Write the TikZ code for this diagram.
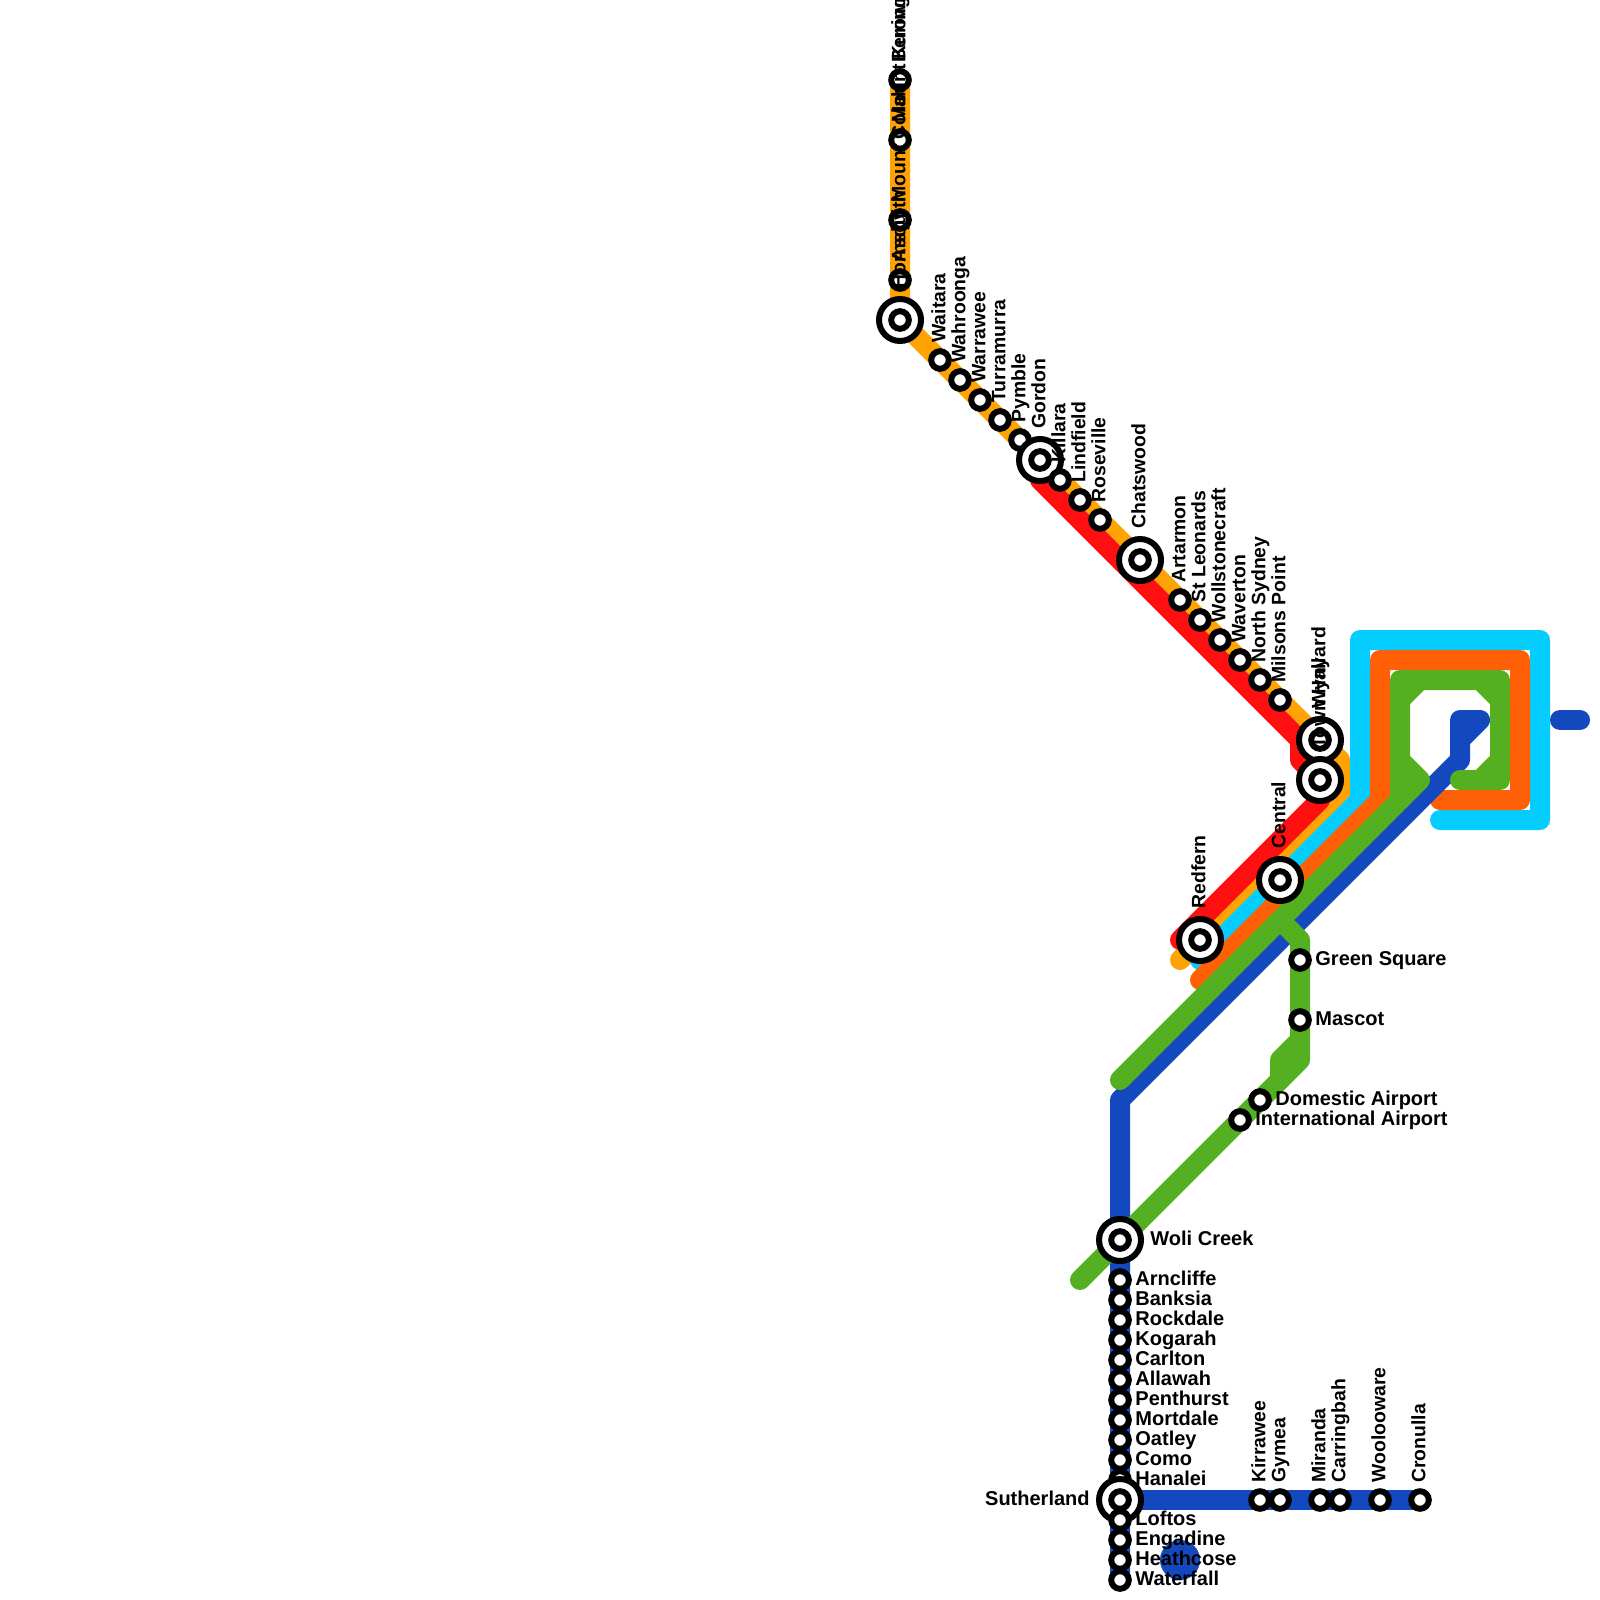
\documentclass[tikz,border=0pt]{standalone}
\usepackage{fontspec}
\setmainfont{Liberation Sans}[BoldFont={Liberation Sans Bold}]
\usepackage{xcolor}
\definecolor{lineblue}{RGB}{20, 72, 190}
\definecolor{linegreen}{RGB}{84, 176, 32}
\definecolor{linedorange}{RGB}{255, 96, 5}
\definecolor{linecyan}{RGB}{5, 205, 255}
\definecolor{lineorange}{RGB}{255, 163, 5}
\definecolor{linered}{RGB}{255, 15, 15}
\tikzset{
  metro/.style={line width=10pt, line cap=round, line join=round},
  stn/.style={circle, draw=black, fill=white, line width=3pt, inner sep=0pt, minimum size=8.8pt},
  hubring/.style={circle, draw=black, fill=white, line width=3pt, inner sep=0pt, minimum size=21pt},
  stnlabel/.style={font=\fontsize{10pt}{10pt}\selectfont\bfseries, inner sep=0pt, anchor=mid west, xshift=7.5pt},
  stnup/.style={font=\fontsize{9.7pt}{9.7pt}\selectfont\bfseries, inner sep=0pt, yshift=8.5pt, rotate=90, anchor=mid west},
  hubup/.style={font=\fontsize{9.7pt}{9.7pt}\selectfont\bfseries, inner sep=0pt, yshift=15.5pt, rotate=90, anchor=mid west}
}
\begin{document}
\begin{tikzpicture}[x=0.5pt, y=-0.5pt]
  \useasboundingbox (0, 0) rectangle (1600, 1600);
  % lines
  \draw[metro, lineorange] (900, 80) -- (900, 320) -- (1340, 760) -- (1340, 800) -- (1180, 960);
  \draw[metro, linered] (1040, 480) -- (1300, 740) -- (1300, 760) -- (1320, 780) -- (1320, 800) -- (1180, 940);
  \draw[metro, linecyan] (1200, 960) -- (1360, 800) -- (1360, 640) -- (1540, 640) -- (1540, 820) -- (1440, 820);
  \draw[metro, linedorange] (1200, 980) -- (1380, 800) -- (1380, 660) -- (1520, 660) -- (1520, 800) -- (1440, 800);
  \draw[metro, lineblue] (1120, 1580) -- (1120, 1100) -- (1460, 760) -- (1460, 720) -- (1480, 720) -- (1460, 740);
  \draw[metro, lineblue] (1120, 1500) -- (1420, 1500);
  \draw[metro, lineblue] (1560, 720) -- (1580, 720);
  \fill[lineblue] (1180, 1560) circle (10pt);
  \draw[metro, linegreen] (1120, 1080) -- (1400, 800) -- (1420, 780) -- (1400, 760) -- (1400, 700) -- (1420, 680) -- (1480, 680) -- (1500, 700) -- (1500, 760) -- (1480, 780);
  \draw[metro, linegreen] (1400, 800) -- (1400, 680) -- (1500, 680) -- (1500, 780) -- (1460, 780);
  \draw[metro, linegreen] (1080, 1280) -- (1300, 1060) -- (1300, 940) -- (1280, 920);
  \draw[metro, linegreen] (1300, 1040) -- (1280, 1060) -- (1280, 1080);
  % stations north to south
  \foreach \nm/\x/\y/\txt in {
    berowra/900/80/Berowra, kuringgai/900/140/Mount Kuring-gai, colah/900/220/Mount Colah,
    asquith/900/280/Asquith} {
    \node[stn] (\nm) at (\x, \y) {};
    \node[stnup] (\nm text) at (\nm.center) {\txt};
  }
  \node[hubring] (hornsby) at (900, 320) {};
  \node[stn] (hornsbyin) at (900, 320) {};
  \node[hubup] (hornsbytext) at (hornsby.center) {Hornsby};
  \foreach \nm/\x/\y/\txt in {
    waitara/940/360/Waitara, wahroonga/960/380/Wahroonga, warrawee/980/400/Warrawee,
    turramurra/1000/420/Turramurra, pymble/1020/440/Pymble} {
    \node[stn] (\nm) at (\x, \y) {};
    \node[stnup] (\nm text) at (\nm.center) {\txt};
  }
  \node[hubring] (gordon) at (1040, 460) {};
  \node[stn] (gordonin) at (1040, 460) {};
  \node[hubup] (gordontext) at (gordon.center) {Gordon};
  \foreach \nm/\x/\y/\txt in {
    killara/1060/480/Killara, lindfield/1080/500/Lindfield, roseville/1100/520/Roseville} {
    \node[stn] (\nm) at (\x, \y) {};
    \node[stnup] (\nm text) at (\nm.center) {\txt};
  }
  \node[hubring] (chatswood) at (1140, 560) {};
  \node[stn] (chatswoodin) at (1140, 560) {};
  \node[hubup] (chatswoodtext) at (chatswood.center) {Chatswood};
  \foreach \nm/\x/\y/\txt in {
    artarmon/1180/600/Artarmon, stleonards/1200/620/St Leonards, wollstonecraft/1220/640/Wollstonecraft,
    waverton/1240/660/Waverton, northsydney/1260/680/North Sydney, milsons/1280/700/Milsons Point} {
    \node[stn] (\nm) at (\x, \y) {};
    \node[stnup] (\nm text) at (\nm.center) {\txt};
  }
  \foreach \nm/\x/\y/\txt in {
    wynyard/1320/740/Wynyard, townhall/1320/780/Town Hall, central/1280/880/Central, redfern/1200/940/Redfern} {
    \node[hubring] (\nm) at (\x, \y) {};
    \node[stn] (\nm in) at (\x, \y) {};
    \node[hubup] (\nm text) at (\nm.center) {\txt};
  }
  \foreach \nm/\x/\y/\txt in {
    greensquare/1300/960/Green Square, mascot/1300/1020/Mascot,
    domestic/1260/1100/Domestic Airport, international/1240/1120/International Airport} {
    \node[stn] (\nm) at (\x, \y) {};
    \node[stnlabel] (\nm text) at (\nm.center) {\txt};
  }
  \node[hubring] (woli) at (1120, 1240) {};
  \node[stn] (woliin) at (1120, 1240) {};
  \node[stnlabel, xshift=7.5pt] (wolitext) at (woli.center) {Woli Creek};
  \foreach \nm/\y/\txt in {
    arncliffe/1280/Arncliffe, banksia/1300/Banksia, rockdale/1320/Rockdale, kogarah/1340/Kogarah,
    carlton/1360/Carlton, allawah/1380/Allawah, penthurst/1400/Penthurst, mortdale/1420/Mortdale,
    oatley/1440/Oatley, como/1460/Como, hanalei/1480/Hanalei} {
    \node[stn] (\nm) at (1120, \y) {};
    \node[stnlabel] (\nm text) at (\nm.center) {\txt};
  }
  \node[hubring] (sutherland) at (1120, 1500) {};
  \node[stn] (sutherlandin) at (1120, 1500) {};
  \node[stnlabel, anchor=mid east, xshift=-22.5pt] (sutherlandtext) at (sutherland.center) {Sutherland};
  \foreach \nm/\y/\txt in {
    loftos/1520/Loftos, engadine/1540/Engadine, heathcose/1560/Heathcose, waterfall/1580/Waterfall} {
    \node[stn] (\nm) at (1120, \y) {};
    \node[stnlabel] (\nm text) at (\nm.center) {\txt};
  }
  \foreach \nm/\x/\txt in {
    kirrawee/1260/Kirrawee, gymea/1280/Gymea, miranda/1320/Miranda, carringbah/1340/Carringbah,
    woolooware/1380/Woolooware, cronulla/1420/Cronulla} {
    \node[stn] (\nm) at (\x, 1500) {};
    \node[stnup] (\nm text) at (\nm.center) {\txt};
  }
\end{tikzpicture}
\end{document}
